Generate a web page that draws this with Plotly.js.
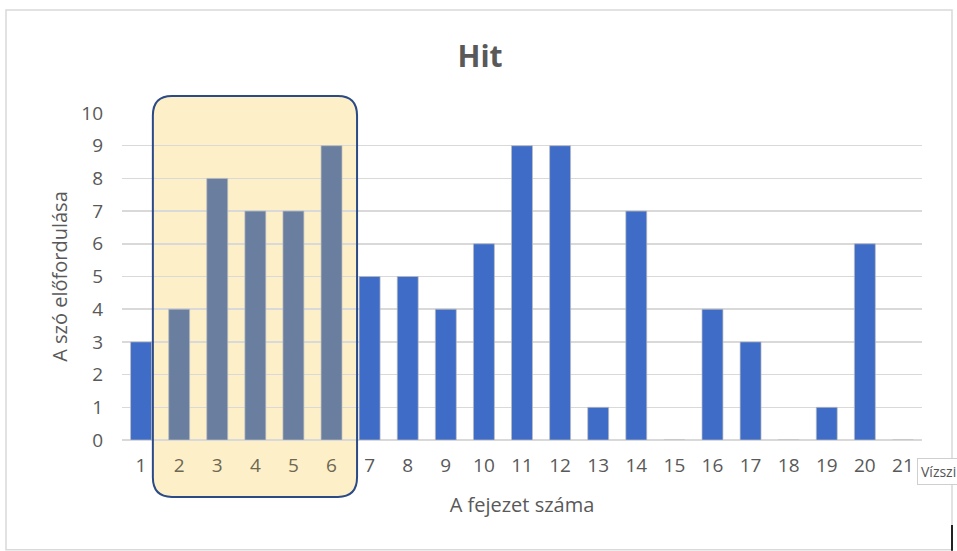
<!DOCTYPE html>
<html>
<head>
<meta charset="utf-8">
<script src="https://cdn.plot.ly/plotly-3.0.1.min.js"></script>
<style>html,body{margin:0;padding:0;background:#fff;}#chart{width:957px;height:551px;}</style>
</head>
<body>
<div id="chart"></div>
<script>
// ---- data ----
const chapters = [1,2,3,4,5,6,7,8,9,10,11,12,13,14,15,16,17,18,19,20,21];
const occurrences = [3,4,8,7,7,9,5,5,4,6,9,9,1,7,0,4,3,0,1,6,0];
const tickLabels = chapters.map(String);
const highlightFrom = 2, highlightTo = 6;
const titleText = "Hit";
const xTitle = "A fejezet száma";
const yTitle = "A szó előfordulása";

// ---- styles ----
const FONT = "Open Sans, Noto Sans, sans-serif";
const GREY = "#595959";
const barColors = chapters.map(c => (c >= highlightFrom && c <= highlightTo) ? "#6a7f9f" : "#3f6cc6");
const tickText = chapters.map((c, i) => (c >= highlightFrom && c <= highlightTo)
  ? '<span style="color:#6e6752">' + tickLabels[i] + '</span>' : tickLabels[i]);

// highlight box geometry (x in data units, y in paper units)
const bx0 = highlightFrom - 0.69, bx1 = highlightTo + 0.67;
const by0 = -0.174, by1 = 1.052, rx = 0.5, ry = 0.06;
const boxPath = `M ${bx0 + rx} ${by1} L ${bx1 - rx} ${by1} Q ${bx1} ${by1} ${bx1} ${by1 - ry} L ${bx1} ${by0 + ry} Q ${bx1} ${by0} ${bx1 - rx} ${by0} L ${bx0 + rx} ${by0} Q ${bx0} ${by0} ${bx0} ${by0 + ry} L ${bx0} ${by1 - ry} Q ${bx0} ${by1} ${bx0 + rx} ${by1} Z`;

const trace = {
  type: "bar",
  x: chapters,
  y: occurrences,
  width: 0.55,
  marker: { color: barColors, line: { color: "rgba(190,190,190,0.7)", width: 1 } },
  hoverinfo: "skip"
};

const layout = {
  width: 957, height: 551,
  margin: { l: 122, r: 35, t: 113, b: 111 },
  paper_bgcolor: "#ffffff", plot_bgcolor: "rgba(0,0,0,0)",
  showlegend: false,
  font: { family: FONT, color: GREY },
  title: {
    text: "<b>" + titleText + "</b>",
    font: { family: FONT, size: 30, color: GREY },
    xref: "paper", yref: "paper", x: 0.4475, xanchor: "center", y: 1.174, yanchor: "middle"
  },
  xaxis: {
    range: [0.5, 21.5], tickmode: "array", tickvals: chapters, ticktext: tickText,
    showgrid: false, zeroline: false, showline: false, ticks: "",
    tickfont: { family: FONT, size: 19, color: GREY },
    ticklabelstandoff: 12,
    title: { text: xTitle, font: { family: FONT, size: 20, color: GREY }, standoff: 20 },
    automargin: false, fixedrange: true
  },
  yaxis: {
    range: [0, 10], dtick: 1, tick0: 0,
    showgrid: true, gridcolor: "#d9d9d9", gridwidth: 1.5,
    zeroline: true, zerolinecolor: "#d9d9d9", zerolinewidth: 1.5,
    showline: false, ticks: "",
    tickfont: { family: FONT, size: 19, color: GREY },
    ticklabelstandoff: 18,
    title: { text: yTitle, font: { family: FONT, size: 20, color: GREY }, standoff: 8 },
    automargin: false, fixedrange: true
  },
  bargap: 0.45,
  shapes: [
    { type: "rect", xref: "paper", yref: "paper", x0: -0.145, x1: 1.0375, y0: -0.336, y1: 1.315,
      line: { color: "#d9d9d9", width: 1.5 }, fillcolor: "rgba(0,0,0,0)", layer: "below" },
    { type: "path", xref: "x", yref: "paper", path: boxPath, fillcolor: "#fdf0c9",
      line: { width: 0 }, layer: "below" },
    { type: "path", xref: "x", yref: "paper", path: boxPath, fillcolor: "rgba(0,0,0,0)",
      line: { color: "#2c4a86", width: 2 }, layer: "above" },
    { type: "line", xref: "paper", yref: "paper", x0: 1.0375, x1: 1.0375, y0: -0.339, y1: -0.26,
      line: { color: "#222222", width: 2 }, layer: "above" }
  ],
  annotations: [
    { text: "Vízszi", xref: "paper", yref: "paper", x: 0.994, y: -0.095, xanchor: "left", yanchor: "middle",
      showarrow: false, bgcolor: "#ffffff", bordercolor: "#cfcfcf", borderwidth: 1, borderpad: 3,
      font: { family: FONT, size: 14, color: "#555555" } }
  ]
};

Plotly.newPlot("chart", [trace], layout, { displayModeBar: false, staticPlot: true });
</script>
</body>
</html>
